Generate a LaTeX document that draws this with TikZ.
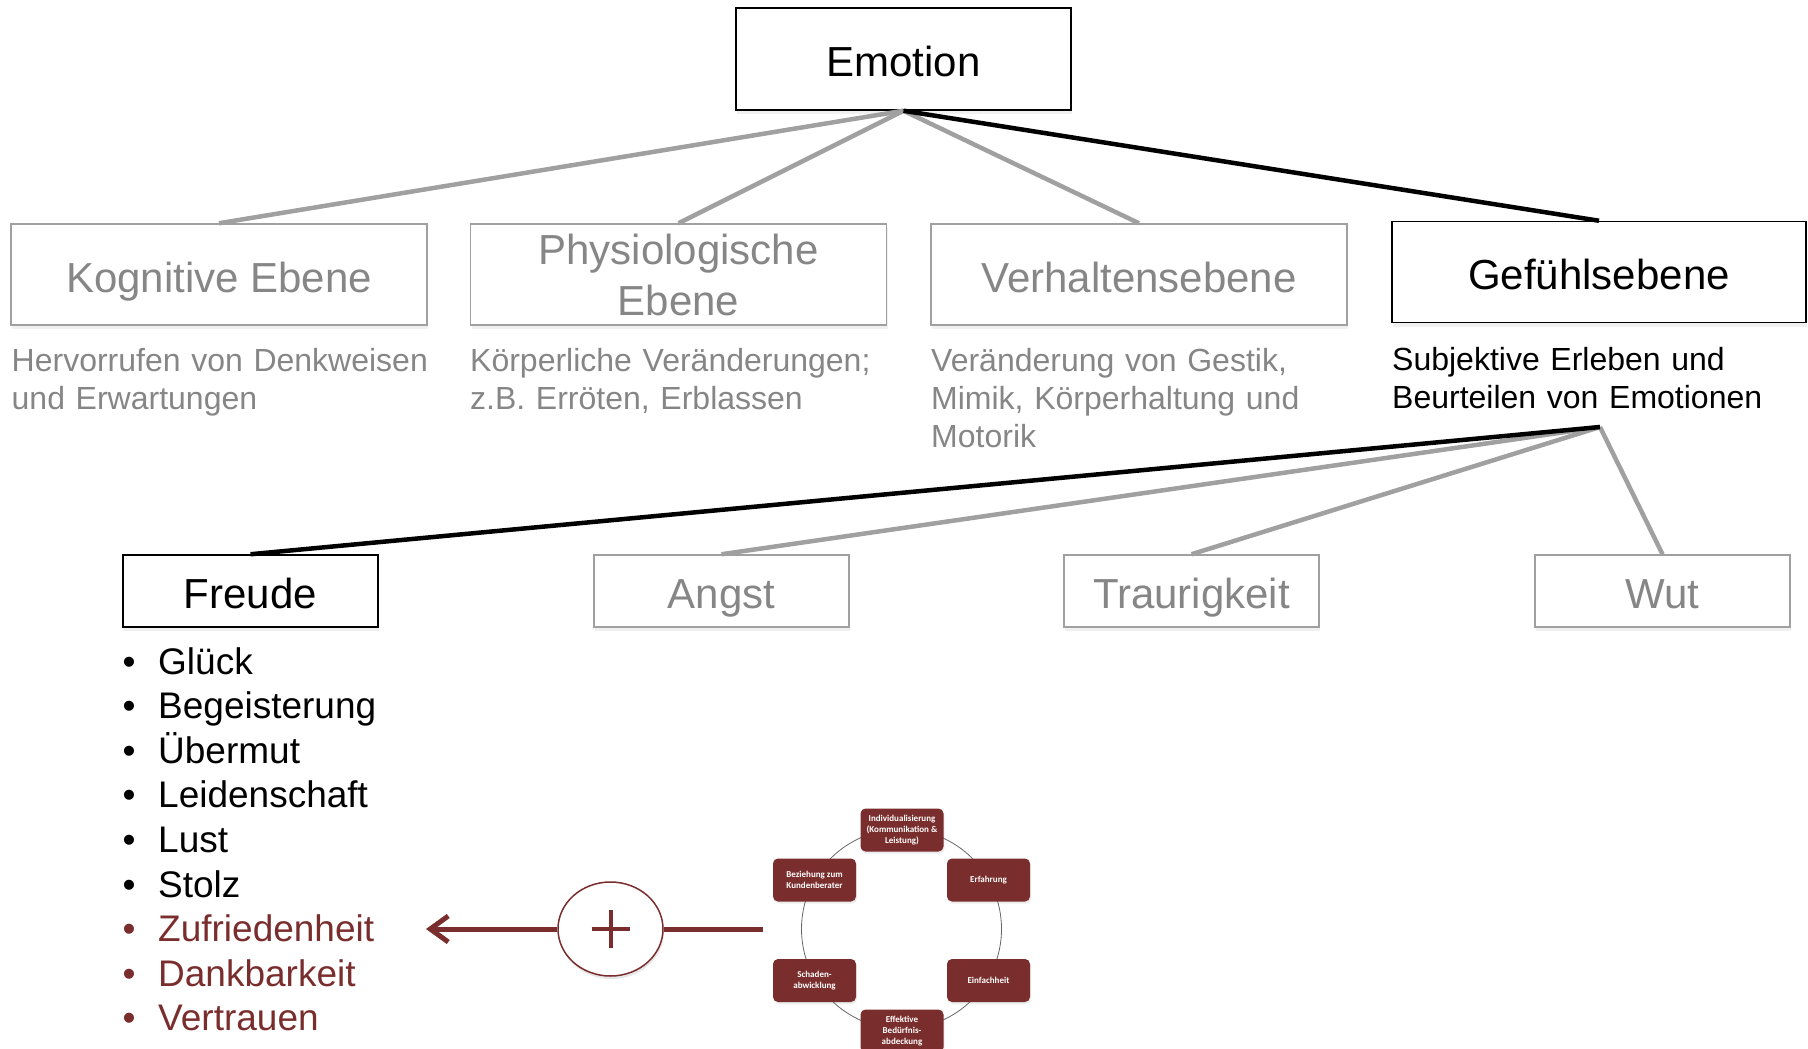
\documentclass[tikz,border=0pt]{standalone}
\usepackage{fontspec}
\setmainfont{Liberation Sans}
\newfontfamily\cycfont{Carlito}
\usetikzlibrary{arrows.meta,shadows,shapes.geometric}
\definecolor{dred}{RGB}{122,45,45}
\definecolor{lgray}{RGB}{160,160,160}
\definecolor{tgray}{RGB}{134,134,134}
\newcommand\mybul{\makebox[35.5pt][l]{•}}
\begin{document}
\begin{tikzpicture}[x=1pt,y=-1pt,
  box/.style={draw, line width=1.5pt, fill=white, inner sep=0pt, align=center,
    font=\fontsize{42}{51}\selectfont,
    drop shadow={opacity=0.12,shadow xshift=1pt,shadow yshift=-4pt}},
  oneline/.style={text height=35pt, text depth=0pt},
  lvbox/.style={box, minimum width=416pt, minimum height=101pt},
  emobox/.style={box, oneline, minimum width=335pt, minimum height=102pt},
  subbox/.style={box, oneline, minimum width=255pt, minimum height=72pt},
  grayb/.style={draw=lgray, text=tgray},
  blackb/.style={draw=black, text=black},
  desc/.style={anchor=base west, inner sep=0pt, text width=460pt, align=left,
    font=\fontsize{32}{38}\selectfont},
  conn/.style={line width=4.5pt},
  gconn/.style={conn, draw=lgray},
  bconn/.style={conn, draw=black},
  cyc/.style={fill=dred, rounded corners=5pt, minimum width=83pt, minimum height=43pt,
    inner sep=1pt, text=white, align=center,
    font=\cycfont\bfseries\fontsize{9}{11}\selectfont,
    drop shadow={opacity=0.15,shadow xshift=1pt,shadow yshift=-2pt}},
  redline/.style={draw=dred, line width=5pt},
]
\useasboundingbox (0,0) rectangle (1808,1049);

% level 1
\node[emobox, blackb] (emotion) at (903.5,59) {Emotion};

% level 2
\node[lvbox, oneline, grayb] (kog) at (219,274.5) {Kognitive Ebene};
\node[lvbox, grayb] (phys) at (678.5,274.5) {Physiologische\\Ebene};
\node[lvbox, oneline, grayb] (verh) at (1139,274.5) {Verhaltensebene};
\node[lvbox, oneline, blackb, minimum width=414pt] (gef) at (1599,272) {Gefühlsebene};

\draw[gconn] (emotion.south) -- (kog.north);
\draw[gconn] (emotion.south) -- (phys.north);
\draw[gconn] (emotion.south) -- (verh.north);
\draw[bconn] (emotion.south) -- (gef.north);

% descriptions
\node[desc, text=tgray] (kogd) at (11.5,371.5) {Hervorrufen von Denkweisen\\und Erwartungen};
\node[desc, text=tgray] (physd) at (470,371.5) {Körperliche Veränderungen;\\z.B. Erröten, Erblassen};
\node[desc, text=tgray] (verhd) at (931,371.5) {Veränderung von Gestik,\\Mimik, Körperhaltung und\\Motorik};
\node[desc, text=black] (gefd) at (1392,370.5) {Subjektive Erleben und\\Beurteilen von Emotionen};

% level 3
\node[subbox, blackb] (freude) at (250.5,591) {Freude};
\node[subbox, grayb] (angst) at (721.5,591) {Angst};
\node[subbox, grayb] (traur) at (1191.5,591) {Traurigkeit};
\node[subbox, grayb] (wut) at (1662.5,591) {Wut};

\coordinate (hub) at (1600,427);
\draw[gconn] (hub) -- (wut.north);
\draw[gconn] (hub) -- (traur.north);
\draw[gconn] (hub) -- (angst.north);
\draw[bconn] (hub) -- (freude.north);

% list
\node[anchor=base west, inner sep=0pt, text width=420pt, align=left,
  font=\fontsize{37}{44.6}\selectfont] (list) at (122.5,674)
  {\mybul Glück\\\mybul Begeisterung\\\mybul Übermut\\\mybul Leidenschaft\\\mybul Lust\\\mybul Stolz\\
   \color{dred}\mybul Zufriedenheit\\\mybul Dankbarkeit\\\mybul Vertrauen};

% plus
\node[ellipse, draw=dred, line width=1.5pt, fill=white, minimum width=105pt, minimum height=94pt,
  drop shadow={opacity=0.2,shadow xshift=1pt,shadow yshift=-3pt}] (plus) at (610.5,929) {};
\draw[dred, line width=4pt] (plus.center) ++(-19,0) -- ++(38,0);
\draw[dred, line width=4pt] (plus.center) ++(0,-19) -- ++(0,38);

\coordinate (tip) at (426,929);
\coordinate (cycin) at (763,929);
\draw[redline, -{Straight Barb[length=18pt,width=26pt]}] (plus.west) -- (tip);
\draw[redline] (plus.east) -- (cycin);

% cycle
\draw[gray!80!black, line width=0.8pt] (901.5,929) circle[radius=100pt];
\node[cyc] (indiv) at (902,830) {Individualisierung\\(Kommunikation \&\\Leistung)};
\node[cyc] (erf) at (988.5,880) {Erfahrung};
\node[cyc] (einf) at (988.5,980.5) {Einfachheit};
\node[cyc] (eff) at (902,1031) {Effektive\\Bedürfnis-\\abdeckung};
\node[cyc] (schad) at (814.5,980.5) {Schaden-\\abwicklung};
\node[cyc] (bez) at (814.5,880) {Beziehung zum\\Kundenberater};
\end{tikzpicture}
\end{document}
